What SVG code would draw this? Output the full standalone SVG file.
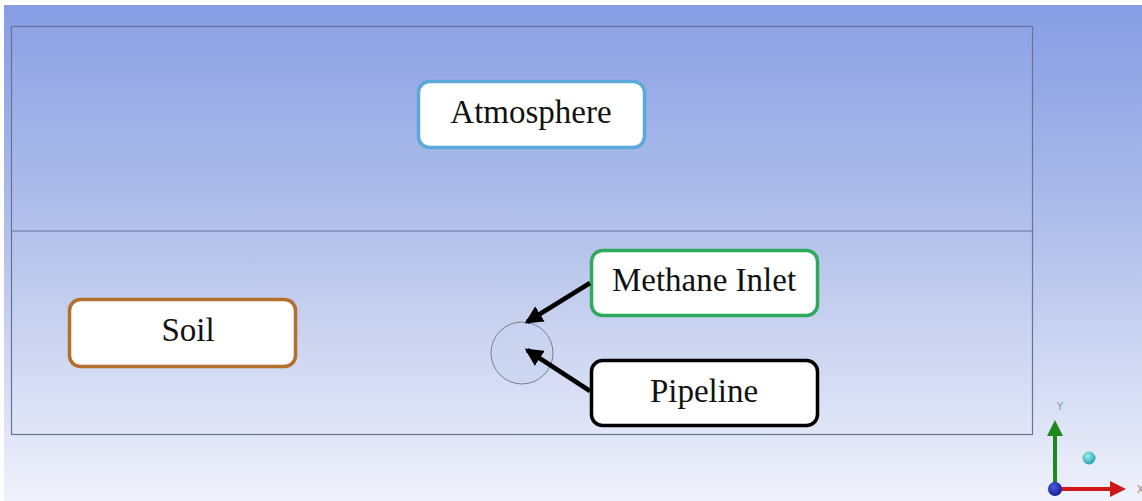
<svg xmlns="http://www.w3.org/2000/svg" width="1142" height="501" viewBox="0 0 1142 501">
<defs>
<linearGradient id="bg" x1="0" y1="0" x2="0" y2="1">
<stop offset="0" stop-color="#869DE4"/>
<stop offset="0.45" stop-color="#B0BEEA"/>
<stop offset="1" stop-color="#F0F2FB"/>
</linearGradient>
<marker id="ah" markerWidth="4" markerHeight="4" refX="3.4" refY="2" orient="auto" markerUnits="strokeWidth">
<path d="M0,0 L4,2 L0,4 Z" fill="#000"/>
</marker>
<marker id="gy" markerWidth="4" markerHeight="4" refX="3" refY="2" orient="auto" markerUnits="strokeWidth">
<path d="M0,0 L4,2 L0,4 Z" fill="#1E8A1E"/>
</marker>
<marker id="rx" markerWidth="4" markerHeight="4" refX="3" refY="2" orient="auto" markerUnits="strokeWidth">
<path d="M0,0 L4,2 L0,4 Z" fill="#D01818"/>
</marker>
<radialGradient id="sph" cx="0.4" cy="0.35" r="0.7">
<stop offset="0" stop-color="#9FF0F0"/>
<stop offset="1" stop-color="#1AA0A8"/>
</radialGradient>
<radialGradient id="bsph" cx="0.4" cy="0.35" r="0.7">
<stop offset="0" stop-color="#4A5CE0"/>
<stop offset="1" stop-color="#101890"/>
</radialGradient>
</defs>
<style>
.box{fill:#FFFFFF;stroke-width:3.5}
.lbl{font-family:"Liberation Serif","Times New Roman",serif;font-size:33px;fill:#111;text-anchor:middle;dominant-baseline:central}
.edge{stroke:#000;stroke-width:4.5;fill:none;marker-end:url(#ah)}
</style>
<rect x="0" y="0" width="1142" height="501" fill="#FFFFFF"/>
<rect x="4" y="5" width="1138" height="496" fill="url(#bg)"/>
<g id="domain">
<rect x="11.5" y="26.5" width="1021" height="408" fill="#FFFFFF" fill-opacity="0.04" stroke="#67739A" stroke-width="1.2"/>
<line x1="11.5" y1="231" x2="1032.5" y2="231" stroke="#67739A" stroke-width="1.2"/>
<circle cx="522" cy="353" r="31" fill="#C8D2F0" fill-opacity="0.5" stroke="#7A7F90" stroke-width="1"/>
</g>
<g id="atmosphere">
<rect class="box" x="418.5" y="81.5" width="226" height="66" rx="11" stroke="#5BA9D9"/>
<text class="lbl" x="531" y="112">Atmosphere</text>
</g>
<g id="soil">
<rect class="box" x="69.5" y="299.5" width="226" height="67" rx="11" stroke="#B36F2C"/>
<text class="lbl" x="188" y="330">Soil</text>
</g>
<g id="methane-inlet">
<rect class="box" x="591.5" y="250.5" width="226" height="65" rx="11" stroke="#2EAA5C"/>
<text class="lbl" x="704" y="280">Methane Inlet</text>
</g>
<g id="pipeline">
<rect class="box" x="591.5" y="360.5" width="226" height="65" rx="11" stroke="#000000"/>
<text class="lbl" x="704" y="391">Pipeline</text>
</g>
<g id="connectors">
<line class="edge" x1="590" y1="283" x2="527" y2="322"/>
<line class="edge" x1="590" y1="391" x2="527" y2="350"/>
</g>
<g id="axes">
<line x1="1055" y1="489" x2="1055" y2="424" stroke="#1E8A1E" stroke-width="4" marker-end="url(#gy)"/>
<line x1="1055" y1="489" x2="1122" y2="489" stroke="#D01818" stroke-width="4" marker-end="url(#rx)"/>
<circle cx="1055" cy="489" r="7" fill="url(#bsph)"/>
<circle cx="1089" cy="458" r="6.5" fill="url(#sph)"/>
<text x="1060" y="410" font-family="Liberation Sans, Arial, sans-serif" font-size="10" fill="#7A9A9A" text-anchor="middle">Y</text>
<text x="1137" y="493" font-family="Liberation Sans, Arial, sans-serif" font-size="10" fill="#A08080">X</text>
</g>
</svg>
